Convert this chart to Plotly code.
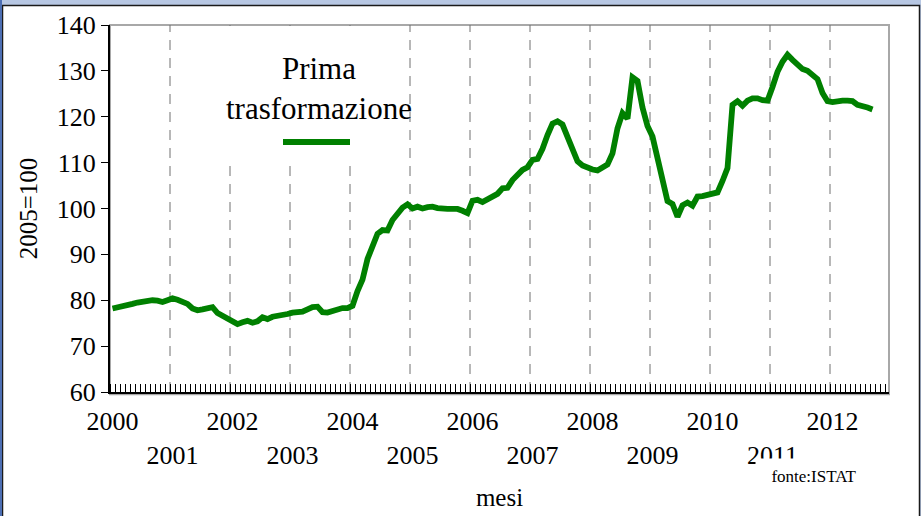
import plotly.graph_objects as go

# indice mensile 2005=100, gennaio 2000 - settembre 2012
years = list(range(2000, 2013))
values = [
    # 2000
    78.2, 78.4, 78.5, 78.8, 79.2, 79.5, 79.7, 79.9, 80.0, 79.9, 79.6, 80.0,
    # 2001
    80.4, 80.1, 79.6, 79.2, 78.2, 77.8, 78.0, 78.2, 78.5, 77.2, 76.6, 76.0,
    # 2002
    75.3, 74.8, 75.2, 75.5, 75.1, 75.4, 76.3, 75.9, 76.4, 76.5, 76.7, 77.0,
    # 2003
    77.3, 77.4, 77.5, 78.0, 78.5, 78.6, 77.4, 77.3, 77.7, 78.1, 78.3, 78.3,
    # 2004
    78.8, 82.0, 84.5, 89.0, 92.0, 94.5, 95.3, 95.2, 97.5, 99.0, 100.2, 100.9,
    # 2005
    100.0, 100.4, 100.0, 100.3, 100.4, 100.1, 99.9, 99.9, 99.9, 99.9, 99.5, 99.0,
    # 2006
    101.7, 101.9, 101.4, 102.0, 102.5, 103.2, 104.4, 104.5, 106.2, 107.5, 108.4, 109.0,
    # 2007
    110.6, 110.8, 113.0, 116.0, 118.5, 119.0, 118.3, 115.6, 112.8, 110.3, 109.4, 108.9,
    # 2008
    108.5, 108.3, 108.8, 109.6, 112.0, 117.5, 120.8, 119.6, 128.6, 127.8, 122.0, 118.0,
    # 2009
    115.7, 110.5, 106.0, 101.6, 101.0, 98.2, 100.7, 101.3, 100.6, 102.6, 102.7, 102.9,
    # 2010
    103.0, 103.5, 106.0, 108.8, 122.6, 123.4, 122.4, 123.5, 124.0, 124.0, 123.6, 123.5,
    # 2011
    126.5, 129.8, 132.0, 133.5, 132.4, 131.2, 130.4, 130.0, 129.2, 128.2, 125.2, 123.4,
    # 2012
    123.2, 123.5, 123.5, 123.5, 123.4, 122.6, 122.4, 122.0, 121.6,
]
series_name = "Prima<br>trasformazione"

FONT = "Liberation Serif"
GREEN = "#008000"

months = [i + 0.5 for i in range(len(values))]
tick_pos = [12 * (y - years[0]) + 0.5 for y in years]
tick_txt = [str(y) if y % 2 == 0 else "<br>" + str(y) for y in years]

# pixel -> paper helpers (plot area 110..889 x 25..392)
L, R, T, B = 110, 889, 25, 392
def px(x):
    return (x - L) / (R - L)
def py(y):
    return (B - y) / (B - T)

fig = go.Figure()
fig.add_trace(go.Scatter(x=months, y=values, mode="lines",
                         line=dict(color=GREEN, width=5.8),
                         name=series_name, showlegend=False))

shapes = []
# white panel with dark frame
shapes.append(dict(type="rect", xref="paper", yref="paper", layer="below",
                   x0=px(2.5), x1=px(919.5), y0=py(530), y1=py(5.5),
                   fillcolor="white", line=dict(color="#1a1a1a", width=1.5)))
shapes.append(dict(type="rect", xref="paper", yref="paper", layer="below",
                   x0=px(0), x1=px(2), y0=py(530), y1=py(0),
                   fillcolor="#4d6fb3", line=dict(width=0)))
# plot area grey border
shapes.append(dict(type="rect", xref="paper", yref="paper", layer="below",
                   x0=0, x1=1, y0=-0.006, y1=1,
                   fillcolor="white", line=dict(color="#a8a8a8", width=2)))
# dashed year gridlines
for y in years[1:]:
    xv = 12 * (y - years[0])
    shapes.append(dict(type="line", xref="x", yref="paper", layer="below",
                       x0=xv, x1=xv, y0=0, y1=1,
                       line=dict(color="#707070", width=1, dash="10px,8px")))
# legend box (hides gridlines)
shapes.append(dict(type="rect", xref="paper", yref="paper", layer="below",
                   x0=px(174), x1=px(406), y0=py(166), y1=py(26),
                   fillcolor="white", line=dict(width=0)))
# legend line sample
shapes.append(dict(type="line", xref="paper", yref="paper",
                   x0=px(283), x1=px(350), y0=py(142), y1=py(142),
                   line=dict(color=GREEN, width=6)))

annotations = [
    dict(text=series_name, xref="paper", yref="paper", x=px(319), y=py(88),
         xanchor="center", yanchor="middle",
         showarrow=False, font=dict(family=FONT, size=31, color="black")),
    dict(text="fonte:ISTAT", xref="paper", yref="paper", x=px(814), y=py(476),
         xanchor="center", yanchor="middle",
         showarrow=False, font=dict(family=FONT, size=17, color="black"),
         bgcolor="white", width=112, height=30, borderpad=2, valign="middle"),
]

fig.update_layout(
    width=921, height=516,
    margin=dict(l=L, r=921 - R, t=T, b=516 - B, autoexpand=False),
    paper_bgcolor="#b7c7e3", plot_bgcolor="rgba(0,0,0,0)",
    font=dict(family=FONT, size=26, color="black"),
    shapes=shapes, annotations=annotations,
)
fig.update_xaxes(range=[0, (R - L) / 5], tickvals=tick_pos, ticktext=tick_txt,
                 ticks="", showgrid=False, zeroline=False, automargin=False,
                 showline=True, linecolor="black", linewidth=2,
                 ticklabelstandoff=5,
                 minor=dict(dtick=1, tick0=0, ticks="inside", ticklen=8,
                            tickcolor="black", tickwidth=1, showgrid=False),
                 title=dict(text="mesi", standoff=19, font=dict(size=25)))
fig.update_yaxes(range=[60, 140], dtick=10, ticks="outside", ticklen=7,
                 tickcolor="black", showgrid=False, zeroline=False,
                 automargin=False,
                 showline=True, linecolor="black", linewidth=2,
                 title=dict(text="2005=100", standoff=12, font=dict(size=25)))

fig.write_html("out.html", config={"displayModeBar": False},
               post_script="document.body.style.margin='0';")
